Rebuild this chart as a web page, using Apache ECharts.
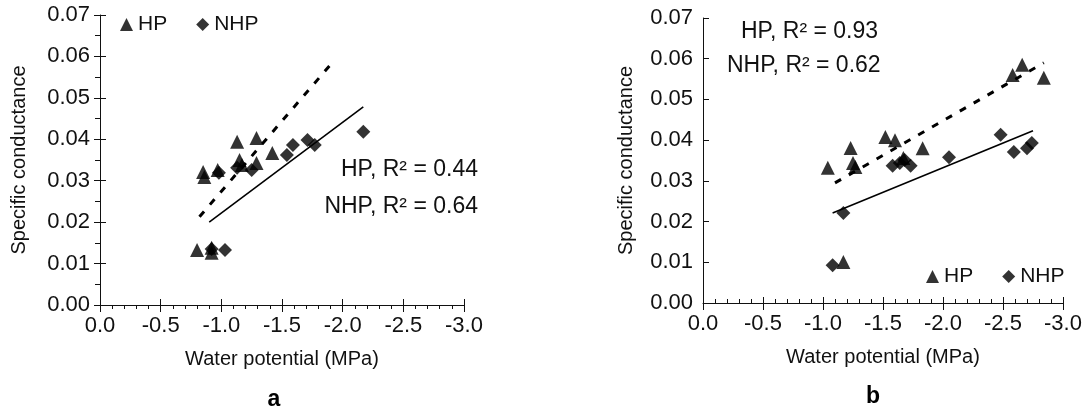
<!DOCTYPE html>
<html>
<head>
<meta charset="utf-8">
<script src="https://cdn.jsdelivr.net/npm/echarts@6/dist/echarts.min.js"></script>
<style>
html,body{margin:0;padding:0;background:#fff;}
#chart{width:1087px;height:412px;}
</style>
</head>
<body>
<div id="chart"></div>
<script>
// ---- data (water potential MPa, specific conductance) ----
const aHP = [[-0.85,0.0321],[-0.86,0.0309],[-0.97,0.0326],[-1.13,0.0394],[-1.15,0.0350],[-1.17,0.0338],
  [-1.29,0.0403],[-1.29,0.0343],[-1.42,0.0367],[-0.80,0.0133],[-0.92,0.0138],[-0.92,0.0126]];
const aNHP = [[-0.92,0.0135],[-1.03,0.0133],[-0.98,0.0319],[-1.13,0.0331],[-1.25,0.0326],[-1.54,0.0362],
  [-1.59,0.0386],[-1.71,0.0398],[-1.77,0.0386],[-2.17,0.0418]];
const aHPFit = [[-0.82,0.0213],[-1.92,0.0587]];
const aNHPFit = [[-0.90,0.0200],[-2.17,0.0478]];

const bHP = [[-1.04,0.0332],[-1.23,0.0381],[-1.25,0.0344],[-1.27,0.0334],[-1.17,0.0101],[-1.52,0.0408],
  [-1.60,0.0400],[-1.67,0.0356],[-1.83,0.0380],[-2.58,0.0560],[-2.66,0.0585],[-2.84,0.0553]];
const bNHP = [[-1.08,0.0093],[-1.17,0.0221],[-1.58,0.0337],[-1.64,0.0344],[-1.68,0.0351],[-1.73,0.0337],
  [-2.05,0.0358],[-2.48,0.0413],[-2.59,0.0371],[-2.70,0.0380],[-2.74,0.0393]];
const bHPFit = [[-1.10,0.0295],[-2.84,0.0590]];
const bNHPFit = [[-1.08,0.0221],[-2.75,0.0423]];

const statsA = ['HP, R\u00B2 = 0.44', 'NHP, R\u00B2 = 0.64'];
const statsB = ['HP, R\u00B2 = 0.93', 'NHP, R\u00B2 = 0.62'];
const panelLabels = ['a', 'b'];
const xName = 'Water potential (MPa)';
const yName = 'Specific conductance';
const xRange = [-3, 0, 0.5];
const yRange = [0, 0.07, 0.01];

const FONT = '"Liberation Sans", Arial, sans-serif';
const INK = '#111';

const chart = echarts.init(document.getElementById('chart'));

const grids = [
  {left:100, right:623, top:15, bottom:107},
  {left:703, right:24, top:18, bottom:109}
];

function xAx(gi, opts) {
  return Object.assign({
    type:'value', gridIndex:gi, min:xRange[0], max:xRange[1], interval:xRange[2], inverse:true,
    splitLine:{show:false},
    axisLine:{show:true, onZero:false, lineStyle:{color:INK, width:1}},
    axisLabel:{show:true, color:INK, fontFamily:FONT, fontSize:22, margin:10,
      formatter:v=>v.toFixed(1)},
    name:xName, nameLocation:'middle', nameGap:44,
    nameTextStyle:{color:INK, fontFamily:FONT, fontSize:20}
  }, opts);
}
function yAx(gi, opts) {
  return Object.assign({
    type:'value', gridIndex:gi, min:yRange[0], max:yRange[1], interval:yRange[2],
    splitLine:{show:false},
    axisLine:{show:true, onZero:false, lineStyle:{color:INK, width:1}},
    axisLabel:{show:true, color:INK, fontFamily:FONT, fontSize:22, margin:10,
      formatter:v=>v.toFixed(2)},
    name:yName, nameLocation:'middle', nameGap:71,
    nameTextStyle:{color:INK, fontFamily:FONT, fontSize:20}
  }, opts);
}
function overlay(opts){
  return Object.assign({axisLine:{show:false}, axisLabel:{show:false}, name:'', minorTick:{show:false}}, opts);
}

const xAxes = [
  xAx(0, {axisTick:{show:true, inside:false, length:7, lineStyle:{color:INK}},
          minorTick:{show:true, splitNumber:5, length:4, lineStyle:{color:INK}}}),
  xAx(1, {axisTick:{show:true, inside:true, length:6, lineStyle:{color:INK}},
          minorTick:{show:true, splitNumber:5, length:4, lineStyle:{color:INK}}}),
  xAx(2, overlay({axisTick:{show:true, inside:true, length:6, lineStyle:{color:INK}}})),
  xAx(3, overlay({axisTick:{show:true, inside:false, length:7, lineStyle:{color:INK}}}))
];
const yAxes = [
  yAx(0, {axisTick:{show:true, inside:false, length:6, lineStyle:{color:INK}},
          minorTick:{show:true, splitNumber:2, length:5, lineStyle:{color:INK}}}),
  yAx(1, {nameGap:67, axisTick:{show:true, inside:true, length:6, lineStyle:{color:INK}}}),
  yAx(2, overlay({axisTick:{show:true, inside:true, length:6, lineStyle:{color:INK}}})),
  yAx(3, overlay({axisTick:{show:false}}))
];

function scat(name, data, gi, sym, size) {
  return {type:'scatter', name:name, data:data, xAxisIndex:gi, yAxisIndex:gi,
    symbol:sym, symbolSize:size, itemStyle:{color:'#000'}, z:3};
}
function fit(name, data, gi, dashed) {
  return {type:'line', name:name, data:data, xAxisIndex:gi, yAxisIndex:gi, symbol:'none',
    lineStyle:{color:'#000', width:dashed?3:1.6, type:dashed?[7,9]:'solid'}, z:2, silent:true};
}

function statText(x, y, txt, align) {
  return {type:'text', x:x, y:y, style:{text:txt, font:'23px ' + FONT, fill:INK,
    textAlign:align, textVerticalAlign:'middle'}};
}

const legendCommon = {
  orient:'horizontal', padding:0, itemWidth:13, itemHeight:13, itemGap:29,
  textStyle:{color:INK, fontFamily:FONT, fontSize:21},
  data:[{name:'HP', icon:'triangle'}, {name:'NHP', icon:'diamond'}],
  selectedMode:false
};

chart.setOption({
  animation:false,
  backgroundColor:'#fff',
  grid: [grids[0], grids[1], grids[0], grids[1]],
  xAxis: xAxes,
  yAxis: yAxes,
  legend: [
    Object.assign({left:120, top:14}, legendCommon),
    Object.assign({left:926, top:266}, legendCommon)
  ],
  series: [
    fit('HP fit a', aHPFit, 0, true),
    fit('NHP fit a', aNHPFit, 0, false),
    scat('HP', aHP, 0, 'triangle', 14),
    scat('NHP', aNHP, 0, 'diamond', 14),
    fit('HP fit b', bHPFit, 1, true),
    fit('NHP fit b', bNHPFit, 1, false),
    scat('HP', bHP, 1, 'triangle', 14),
    scat('NHP', bNHP, 1, 'diamond', 14)
  ],
  graphic: [
    statText(478, 170, statsA[0], 'right'),
    statText(478, 207, statsA[1], 'right'),
    statText(741, 32, statsB[0], 'left'),
    statText(727, 66, statsB[1], 'left'),
    {type:'text', x:274, y:400, style:{text:panelLabels[0], font:'bold 23px ' + FONT, fill:'#000', textAlign:'center', textVerticalAlign:'middle'}},
    {type:'text', x:873, y:397, style:{text:panelLabels[1], font:'bold 23px ' + FONT, fill:'#000', textAlign:'center', textVerticalAlign:'middle'}}
  ]
});
</script>
</body>
</html>
